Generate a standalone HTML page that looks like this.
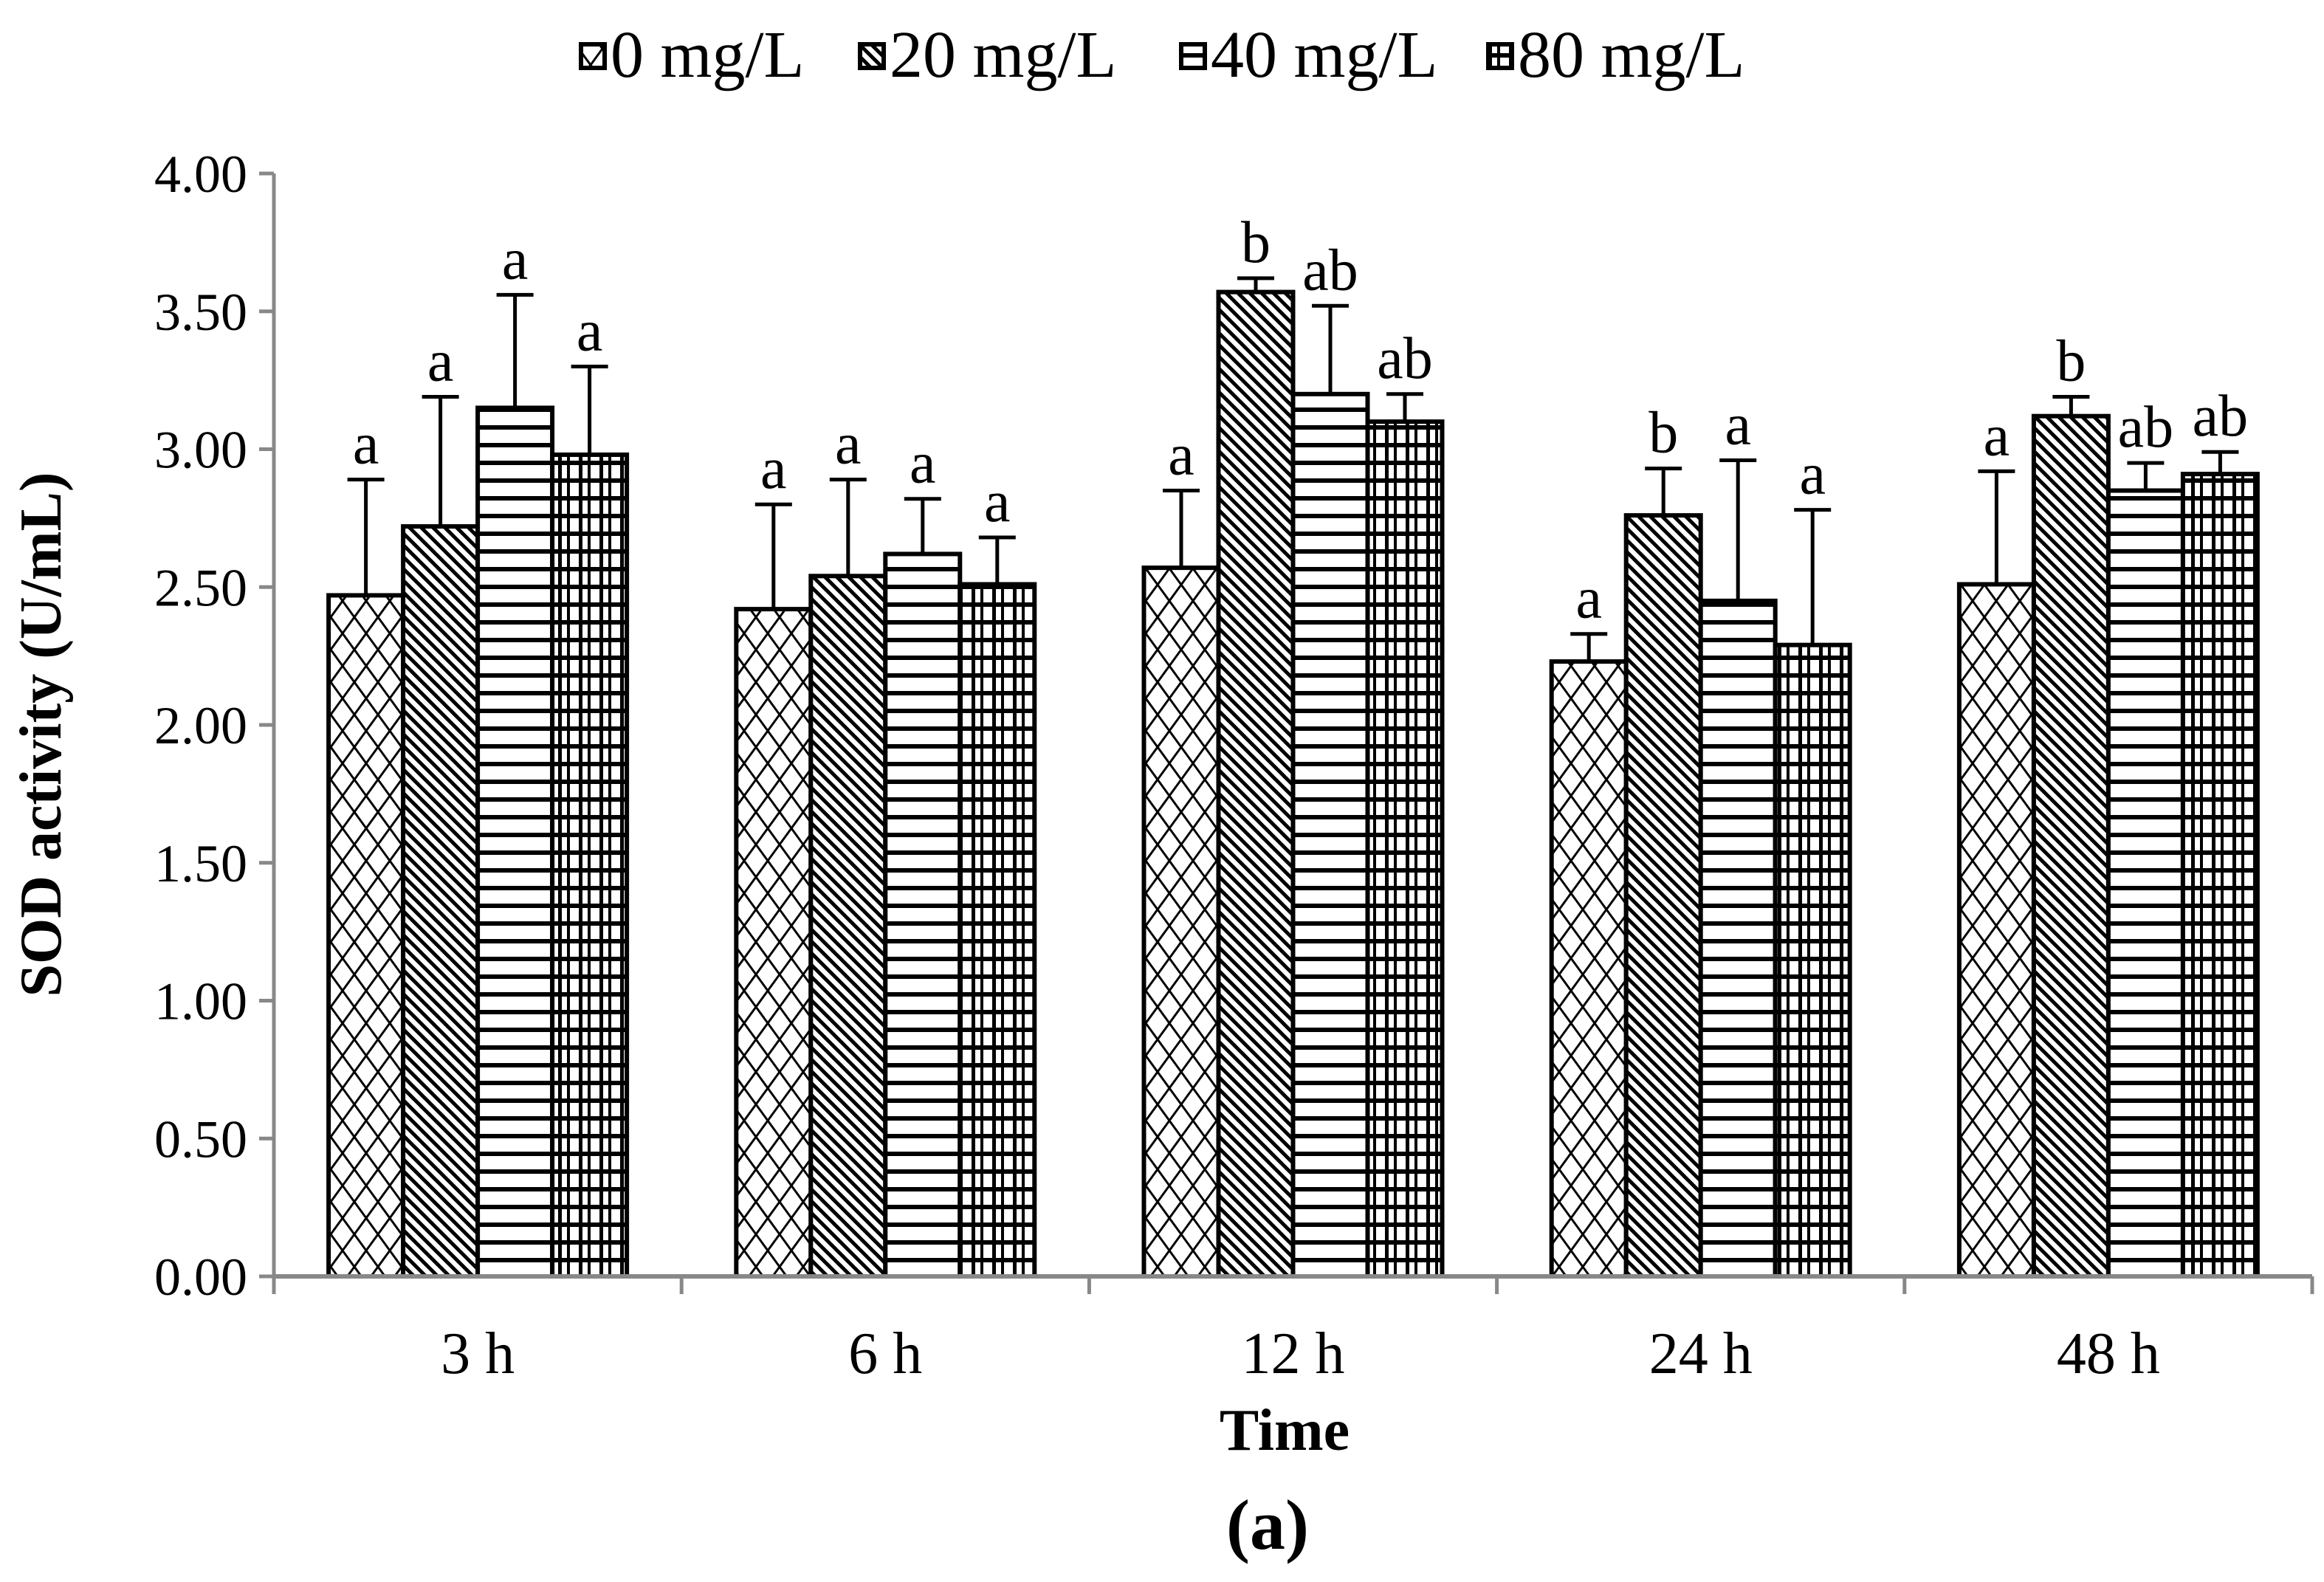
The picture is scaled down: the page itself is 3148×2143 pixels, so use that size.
<!DOCTYPE html>
<html><head><meta charset="utf-8"><style>
html,body{margin:0;padding:0;background:#fff;}
svg{display:block;}
text{font-family:"Liberation Serif",serif;fill:#000;}
</style></head><body>
<svg id="chart" width="3148" height="2143" viewBox="0 0 3148 2143" xmlns="http://www.w3.org/2000/svg">
<defs>
<pattern id="p0" patternUnits="userSpaceOnUse" width="32" height="44">
<rect width="32" height="44" fill="#fff"/>
<path d="M0,0 L32,44 M32,0 L0,44" stroke="#000" stroke-width="3"/>
</pattern>
<pattern id="p1" patternUnits="userSpaceOnUse" width="16" height="16">
<rect width="16" height="16" fill="#fff"/>
<path d="M-4,-4 L20,20 M-4,12 L4,20 M12,-4 L20,4" stroke="#000" stroke-width="5"/>
</pattern>
<pattern id="p2" patternUnits="userSpaceOnUse" width="20" height="24">
<rect width="20" height="24" fill="#fff"/>
<rect y="0" width="20" height="6" fill="#000"/>
</pattern>
<pattern id="p3" patternUnits="userSpaceOnUse" width="28" height="24">
<rect width="28" height="24" fill="#fff"/>
<rect y="0" width="28" height="6" fill="#000"/>
<rect x="0" width="5" height="24" fill="#000"/>
<rect x="12" width="4" height="24" fill="#000"/>
</pattern>
</defs>
<g id="plot"></g>
</svg>
<script>
const categories = ["3 h","6 h","12 h","24 h","48 h"];
const seriesNames = ["0 mg/L","20 mg/L","40 mg/L","80 mg/L"];
const s0 = [2.47,2.42,2.57,2.23,2.51];
const s1 = [2.72,2.54,3.57,2.76,3.12];
const s2 = [3.15,2.62,3.20,2.45,2.85];
const s3 = [2.98,2.51,3.10,2.29,2.91];
const e0 = [0.42,0.38,0.28,0.10,0.41];
const e1 = [0.47,0.35,0.05,0.17,0.07];
const e2 = [0.41,0.20,0.32,0.51,0.10];
const e3 = [0.32,0.17,0.10,0.49,0.08];
const l0 = ["a","a","a","a","a"];
const l1 = ["a","a","b","b","b"];
const l2 = ["a","a","ab","a","ab"];
const l3 = ["a","a","ab","a","ab"];
const yTicks = [0,0.5,1,1.5,2,2.5,3,3.5,4];

const NS="http://www.w3.org/2000/svg";
const g=document.getElementById('plot');
const X0=371, X1=3132, Y0=1729, Y4=235;
const catW=(X1-X0)/categories.length;
const barW=101;
function y(v){return Y0-(v/4)*(Y0-Y4);}
function xc(i){return X0+catW*(i+0.5);}
function mk(tag,attrs,parent){const e=document.createElementNS(NS,tag);for(const k in attrs)e.setAttribute(k,attrs[k]);(parent||g).appendChild(e);return e;}
const series=[s0,s1,s2,s3], errs=[e0,e1,e2,e3], lets=[l0,l1,l2,l3];

let ax=mk('line',{x1:X0,y1:Y4,x2:X0,y2:Y0,stroke:'#888','stroke-width':5});


yTicks.forEach(t=>{
  const tk=mk('line',{x1:X0-20,x2:X0,y1:y(t),y2:y(t),stroke:'#888','stroke-width':5});
  
  
  const tx=mk('text',{x:X0-36,y:y(t)+25,'text-anchor':'end','font-size':72});
  tx.textContent=t.toFixed(2);
  
  
});
categories.forEach((c,i)=>{
  const gx=xc(i)-barW*2;
  series.forEach((s,k)=>{
    const bx=gx+k*barW;
    const r=mk('rect',{x:bx,y:y(s[i]),width:barW,height:Y0-y(s[i]),fill:'url(#p'+k+')',stroke:'#000','stroke-width':6});
    
    
    const cx=bx+barW/2, top=y(s[i]+errs[k][i]);
    const el=mk('path',{d:'M'+cx+','+y(s[i])+' L'+cx+','+top+' M'+(cx-25)+','+top+' L'+(cx+25)+','+top,stroke:'#000','stroke-width':5,fill:'none'});
    
    
    const lt=mk('text',{x:cx,y:top-22,'text-anchor':'middle','font-size':80});
    lt.textContent=lets[k][i];
    
    
  });
});
let xa=mk('line',{x1:X0,y1:Y0,x2:X1,y2:Y0,stroke:'#888','stroke-width':6});


for(let i=0;i<=categories.length;i++){
  const tk=mk('line',{x1:X0+catW*i,x2:X0+catW*i,y1:Y0,y2:Y0+24,stroke:'#888','stroke-width':5});
  
  
}
categories.forEach((c,i)=>{
  const t=mk('text',{x:xc(i),y:1860,'text-anchor':'middle','font-size':80});
  t.textContent=c;
  
  
});
let xt=mk('text',{x:1740,y:1964,'text-anchor':'middle','font-size':80,'font-weight':'bold'});
xt.textContent='Time';


let yt=mk('text',{x:0,y:0,'text-anchor':'middle','font-size':80,'font-weight':'bold',transform:'translate(82,995) rotate(-90)'});
yt.textContent='SOD activity (U/mL)';


let pa=mk('text',{x:1717,y:2098,'text-anchor':'middle','font-size':96,'font-weight':'bold'});
pa.textContent='(a)';


const legX=[787,1165,1600,2016];
seriesNames.forEach((n,k)=>{
  const b=mk('rect',{x:legX[k],y:60,width:32,height:32,fill:'url(#p'+k+')',stroke:'#000','stroke-width':6});
  
  
  const t=mk('text',{x:legX[k]+40,y:104,'font-size':90});
  t.textContent=n;
  
  
});
</script>
</body></html>
